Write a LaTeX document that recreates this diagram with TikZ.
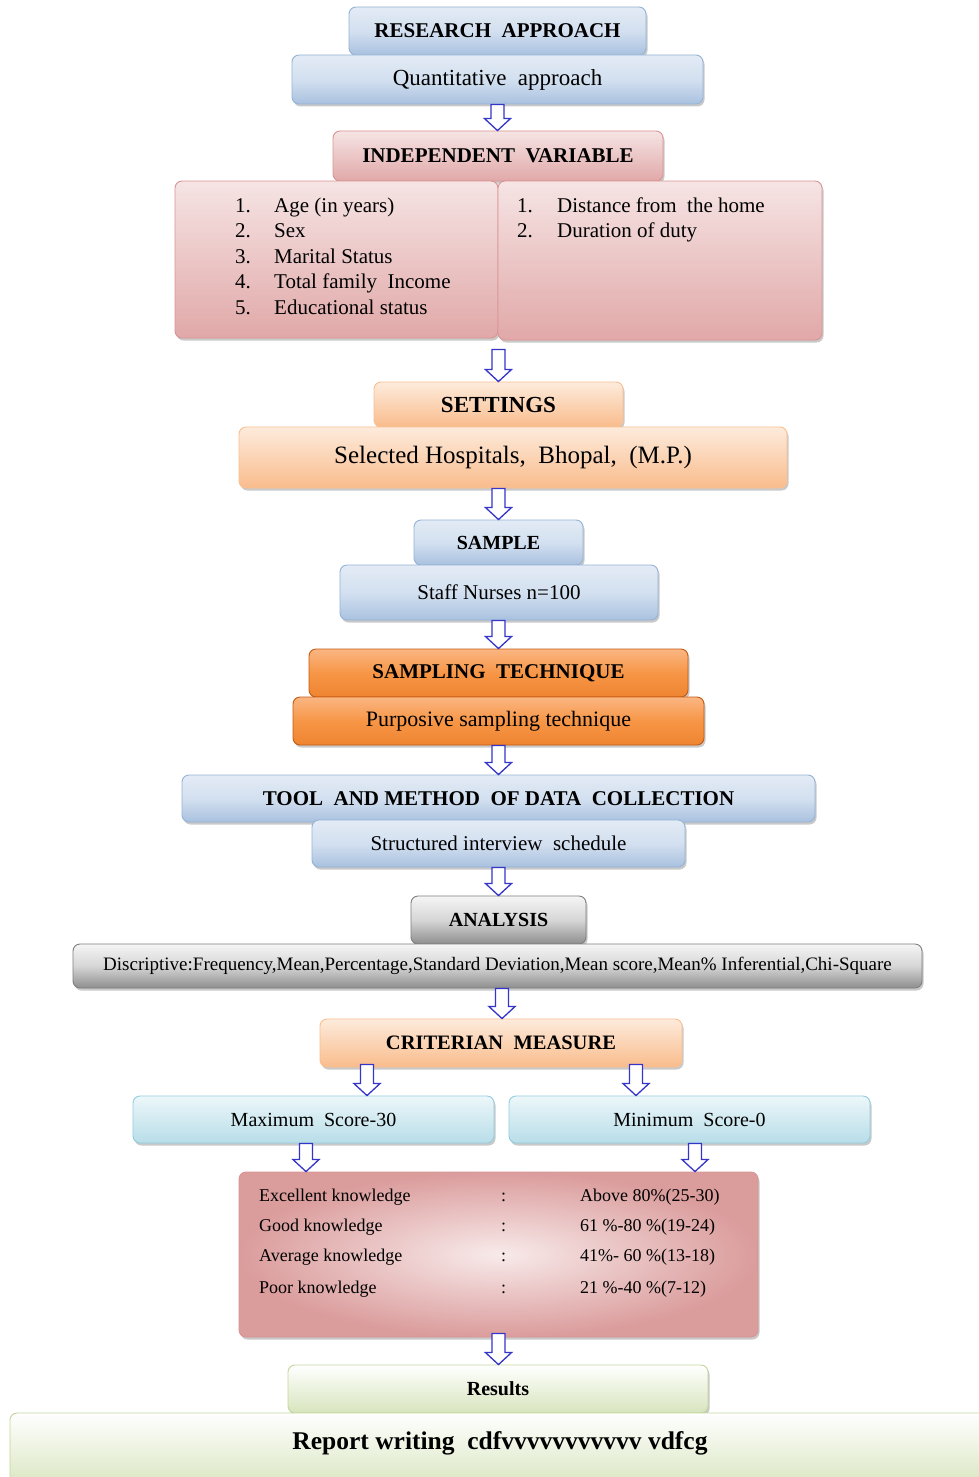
\documentclass[tikz,border=0pt]{standalone}
\usepackage{fontspec}
\setmainfont{Liberation Serif}
\usetikzlibrary{shadows,calc}
\definecolor{bTop}{HTML}{E3EBF5}
\definecolor{bMid}{HTML}{D3E0F0}
\definecolor{bBot}{HTML}{A9C1DF}
\definecolor{bLine}{HTML}{95B3D7}
\definecolor{pTop}{HTML}{F6E4E4}
\definecolor{pBot}{HTML}{E1A8A8}
\definecolor{pLine}{HTML}{D99594}
\definecolor{oTop}{HTML}{FDEBDC}
\definecolor{oBot}{HTML}{F9BC8C}
\definecolor{oLine}{HTML}{FAC090}
\definecolor{sTop}{HTML}{FAB683}
\definecolor{sMid}{HTML}{F79646}
\definecolor{sBot}{HTML}{EE8431}
\definecolor{sLine}{HTML}{C55A11}
\definecolor{gTop}{HTML}{F5F5F5}
\definecolor{gMid}{HTML}{D6D6D6}
\definecolor{gBot}{HTML}{8E8E8E}
\definecolor{gLine}{HTML}{7F7F7F}
\definecolor{cTop}{HTML}{EDF7FA}
\definecolor{cBot}{HTML}{B7DDE8}
\definecolor{cLine}{HTML}{93CDDD}
\definecolor{grTop}{HTML}{FFFFFF}
\definecolor{grBot}{HTML}{D7E4BD}
\definecolor{grLine}{HTML}{C3D69B}
\definecolor{kIn}{HTML}{F8EAEA}
\definecolor{kOut}{HTML}{DB9C9C}
\definecolor{arrowblue}{HTML}{3535C8}
\newcommand\fsz[1]{\fontsize{#1}{#1}\selectfont}
\newcommand\barr[2]{\draw[blockarr] let \p1=#1, \p2=#2 in
  (\x1-6.5pt,\y1) -- (\x1-6.5pt,\y2+12pt) -- (\x1-13pt,\y2+12pt) -- (\x1,\y2)
  -- (\x1+13pt,\y2+12pt) -- (\x1+6.5pt,\y2+12pt) -- (\x1+6.5pt,\y1) -- cycle;}
\tikzset{
  bx/.style={rounded corners=7pt, line width=0.9pt, inner sep=2pt,
    drop shadow={shadow xshift=1.5pt, shadow yshift=-2.5pt, opacity=0.35, fill=black!60}},
  sz/.style 2 args={minimum width=#1pt, minimum height=#2pt},
  bluebox/.style={bx, draw=bLine, top color=bTop, bottom color=bBot, middle color=bMid},
  pinkbox/.style={bx, draw=pLine, top color=pTop, bottom color=pBot},
  orangebox/.style={bx, draw=oLine, top color=oTop, bottom color=oBot},
  strongbox/.style={bx, draw=sLine, top color=sTop, bottom color=sBot, middle color=sMid},
  graybox/.style={bx, draw=gLine, top color=gTop, bottom color=gBot, middle color=gMid},
  cyanbox/.style={bx, draw=cLine, top color=cTop, bottom color=cBot},
  greenbox/.style={bx, draw=grLine, top color=grTop, bottom color=grBot},
  knowbox/.style={bx, draw=pLine, shading=radial, inner color=kIn, outer color=kOut},
  hd/.style={font=\fsz{#1}\bfseries},
  tx/.style={font=\fsz{#1}},
  ln/.style={anchor=base west, inner sep=0pt, font=\fsz{#1}},
  blockarr/.style={draw=arrowblue, fill=white, line width=1.3pt, line join=miter},
}
\begin{document}
\begin{tikzpicture}[x=1pt,y=-1pt]
\useasboundingbox (0,0) rectangle (978,1477);
\fill[white] (0,0) rectangle (978,1477);

% research approach
\node[bluebox, sz={297}{48}, hd=21] (RA) at (497.5,31) {RESEARCH\ \ APPROACH};
\node[bluebox, sz={411}{49}, tx=23] (QA) at (497.5,79.5) {Quantitative\ \ approach};

% independent variable
\node[pinkbox, sz={330}{50}, hd=21] (IV) at (498,156) {INDEPENDENT\ \ VARIABLE};
\node[pinkbox, sz={323}{157}] (L) at (336.5,259.5) {};
\node[pinkbox, sz={324}{159}] (R) at (660,260.5) {};
\node[ln=21] (l1) at (235,212) {\makebox[39pt][l]{1.}Age (in years)};
\node[ln=21] (l2) at (235,237) {\makebox[39pt][l]{2.}Sex};
\node[ln=21] (l3) at (235,263) {\makebox[39pt][l]{3.}Marital Status};
\node[ln=21] (l4) at (235,288) {\makebox[39pt][l]{4.}Total family\ \ Income};
\node[ln=21] (l5) at (235,314) {\makebox[39pt][l]{5.}Educational status};
\node[ln=21] (r1) at (517,212) {\makebox[40pt][l]{1.}Distance from\ \ the home};
\node[ln=21] (r2) at (517,237) {\makebox[40pt][l]{2.}Duration of duty};

% settings
\node[orangebox, sz={249}{45}, hd=23] (SET) at (498.5,404.5) {SETTINGS};
\node[orangebox, sz={548}{61}, tx=25] (SH) at (513,457.5) {Selected Hospitals,\ \ Bhopal,\ \ (M.P.)};

% sample
\node[bluebox, sz={169}{45}, hd=20] (SAM) at (498.5,542.5) {SAMPLE};
\node[bluebox, sz={318}{55}, tx=21] (SN) at (499,592.5) {Staff Nurses n=100};

% sampling technique
\node[strongbox, sz={379}{48}, hd=21] (ST) at (498.5,673) {SAMPLING\ \ TECHNIQUE};
\node[strongbox, sz={411}{48}, tx=22] (PS) at (498.5,721) {Purposive sampling technique};

% tool and method
\node[bluebox, sz={633}{47}, hd=21] (TM) at (498.5,798.5) {TOOL\ \ AND METHOD\ \ OF DATA\ \ COLLECTION};
\node[bluebox, sz={373}{47}, tx=21] (SI) at (498.5,843.5) {Structured interview\ \ schedule};

% analysis
\node[graybox, sz={175}{48}, hd=20] (AN) at (498.5,920) {ANALYSIS};
\node[graybox, sz={849}{44}, tx=19] (DS) at (497.5,966) {Discriptive:Frequency,Mean,Percentage,Standard Deviation,Mean score,Mean\% Inferential,Chi-Square};

% criterian measure
\node[orangebox, sz={362}{48}, hd=20.5] (CM) at (501,1043) {CRITERIAN\ \ MEASURE};
\node[cyanbox, sz={361}{47}, tx=20] (MX) at (313.5,1119.5) {Maximum\ \ Score-30};
\node[cyanbox, sz={361}{47}, tx=20] (MN) at (689.5,1119.5) {Minimum\ \ Score-0};

% knowledge
\node[knowbox, sz={519}{165}] (KN) at (498.5,1254.5) {};
\node[ln=18] (k1a) at (259,1201) {Excellent knowledge};
\node[ln=18] (k2a) at (259,1231) {Good knowledge};
\node[ln=18] (k3a) at (259,1261) {Average knowledge};
\node[ln=18] (k4a) at (259,1293) {Poor knowledge};
\node[ln=18] (k1b) at (501,1201) {:};
\node[ln=18] (k2b) at (501,1231) {:};
\node[ln=18] (k3b) at (501,1261) {:};
\node[ln=18] (k4b) at (501,1293) {:};
\node[ln=18] (k1c) at (580,1201) {Above 80\%(25-30)};
\node[ln=18] (k2c) at (580,1231) {61 \%-80 \%(19-24)};
\node[ln=18] (k3c) at (580,1261) {41\%- 60 \%(13-18)};
\node[ln=18] (k4c) at (580,1293) {21 \%-40 \%(7-12)};

% results
\node[greenbox, sz={420}{48}, hd=20] (RS) at (498,1389) {Results};
\node[greenbox, sz={980}{78}, hd=25.5, text depth=22pt] (RW) at (500,1452) {Report writing\ \ cdfvvvvvvvvvvv vdfcg};

% connector x-positions
\coordinate (c7) at (502,0);
\coordinate (c8) at (367,0);
\coordinate (c9) at (636,0);
\coordinate (c10) at (306,0);
\coordinate (c11) at (695,0);

% block arrows
\barr{(QA.south)}{(IV.north)}
\barr{($(L.south east)+(0,11)$)}{(SET.north)}
\barr{(SH.south -| SAM.north)}{(SAM.north)}
\barr{(SN.south -| ST.north)}{(ST.north)}
\barr{(PS.south)}{(TM.north -| PS.south)}
\barr{(SI.south)}{(AN.north)}
\barr{(DS.south -| c7)}{(CM.north -| c7)}
\barr{($(CM.south -| c8)+(0,-3)$)}{(MX.north -| c8)}
\barr{($(CM.south -| c9)+(0,-3)$)}{(MN.north -| c9)}
\barr{(MX.south -| c10)}{(KN.north -| c10)}
\barr{(MN.south -| c11)}{(KN.north -| c11)}
\barr{($(KN.south)+(0,-4)$)}{(RS.north)}
\end{tikzpicture}
\end{document}
